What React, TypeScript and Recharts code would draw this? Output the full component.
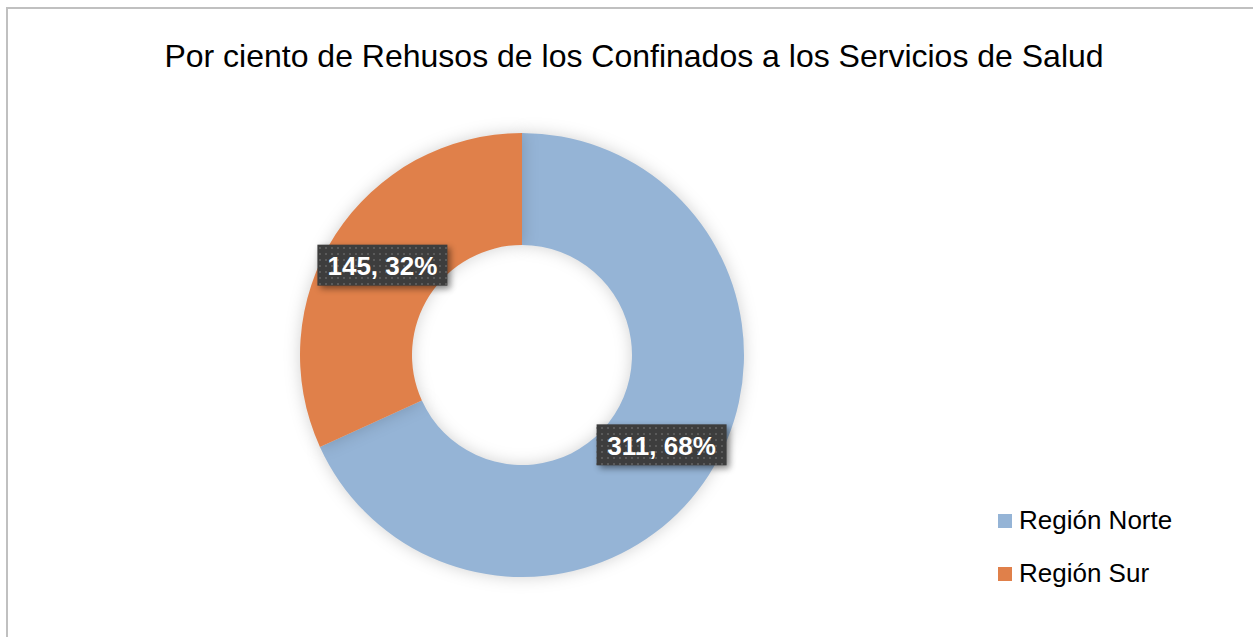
import { PieChart, Pie, Cell, Legend } from "recharts";

const REGIONS = ["Región Norte", "Región Sur"];
const VALUES = [311, 145];
const COLORS = ["#95b4d6", "#e0804a"];

const TITLE = "Por ciento de Rehusos de los Confinados a los Servicios de Salud";

const data = REGIONS.map((name, i) => ({ name, value: VALUES[i] }));
const total = VALUES.reduce((a, b) => a + b, 0);

const RADIAN = Math.PI / 180;

function renderLabel(props: any) {
  const { cx, cy, midAngle, innerRadius, outerRadius, value } = props;
  const r = (innerRadius + outerRadius) / 2;
  const x = cx + r * Math.cos(-midAngle * RADIAN);
  const y = cy + r * Math.sin(-midAngle * RADIAN);
  const pct = Math.round((value / total) * 100);
  const w = 130;
  const h = 41;
  return (
    <g>
      <rect
        x={x - w / 2}
        y={y - h / 2}
        width={w}
        height={h}
        fill="#3d3d3d"
        style={{ filter: "drop-shadow(3px 3px 3px rgba(0,0,0,0.45))" }}
      />
      <rect x={x - w / 2} y={y - h / 2} width={w} height={h} fill="url(#dots)" />
      <text
        x={x}
        y={y + 1}
        fill="#ffffff"
        textAnchor="middle"
        dominantBaseline="central"
        fontFamily="Liberation Sans, Arial, sans-serif"
        fontWeight="bold"
        fontSize={26}
      >
        {`${value}, ${pct}%`}
      </text>
    </g>
  );
}

function LegendBox({ payload }: any) {
  return (
    <div style={{ fontFamily: "Liberation Sans, Arial, sans-serif", fontSize: 26, color: "#000" }}>
      {(payload ?? []).map((p: any, i: number) => (
        <div key={i} style={{ display: "flex", alignItems: "center", height: 53 }}>
          <span style={{ width: 14, height: 14, background: p.color, display: "inline-block", marginRight: 7 }} />
          <span>{p.value}</span>
        </div>
      ))}
    </div>
  );
}

export default function App() {
  return (
    <div style={{ position: "fixed", left: 0, top: 0, width: 1253, height: 637, background: "#fff", overflow: "hidden" }}>
      <style>{`.recharts-pie-sector path { filter: drop-shadow(0px 0px 8px rgba(0,0,0,0.18)); }`}</style>
      <div
        style={{
          position: "absolute",
          left: 0,
          top: 38,
          width: 1268,
          textAlign: "center",
          fontFamily: "Liberation Sans, Arial, sans-serif",
          fontSize: 32,
          color: "#000",
          whiteSpace: "nowrap",
        }}
      >
        {TITLE}
      </div>
      <div style={{ position: "absolute", left: 0, top: 0 }}>
        <PieChart width={1253} height={637} margin={{ top: 0, right: 0, bottom: 0, left: 0 }}>
          <defs>
            <pattern id="dots" width="6" height="6" patternUnits="userSpaceOnUse">
              <rect x="1" y="1" width="2" height="2" fill="#5a5a5a" />
            </pattern>
          </defs>
          <Pie
            data={data}
            dataKey="value"
            nameKey="name"
            cx={522}
            cy={355}
            innerRadius={110}
            outerRadius={222}
            startAngle={90}
            endAngle={-270}
            stroke="none"
            label={renderLabel}
            labelLine={false}
            isAnimationActive={false}
          >
            {data.map((d, i) => (
              <Cell key={d.name} fill={COLORS[i]} />
            ))}
          </Pie>
          <Legend
            layout="vertical"
            align="right"
            verticalAlign="top"
            wrapperStyle={{ left: 998, top: 494, width: 240 }}
            content={<LegendBox />}
          />
        </PieChart>
      </div>
      <div
        style={{
          position: "absolute",
          left: 6,
          top: 7,
          width: 1300,
          height: 700,
          borderTop: "2px solid #c0c0c0",
          borderLeft: "2px solid #c0c0c0",
          pointerEvents: "none",
          zIndex: 5,
        }}
      />
    </div>
  );
}
